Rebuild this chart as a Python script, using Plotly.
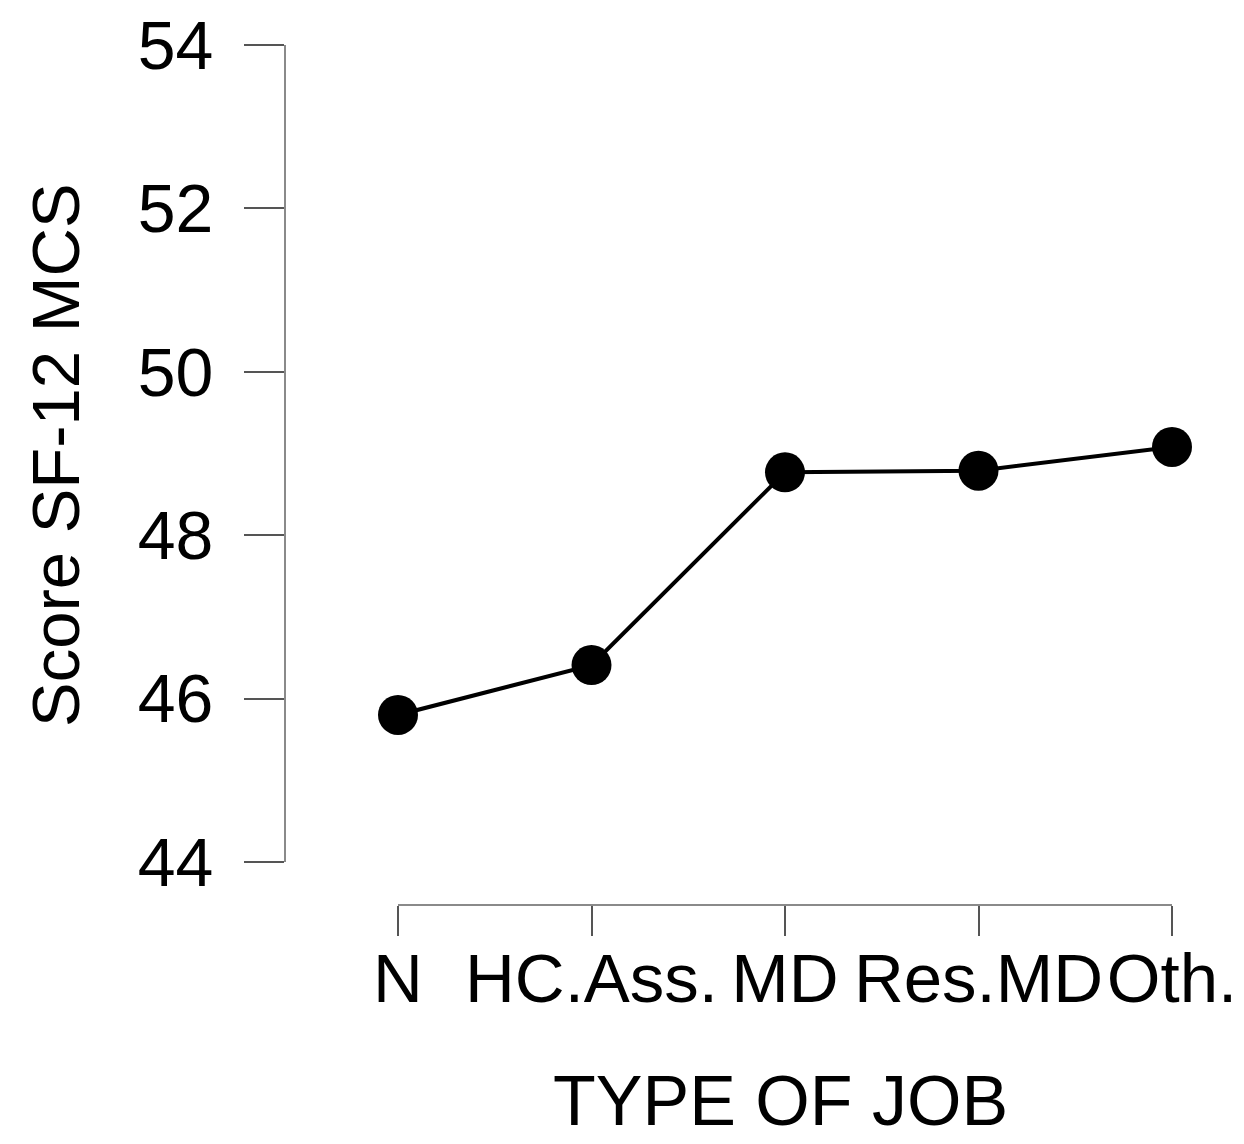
import plotly.graph_objects as go

categories = ["N", "HC.Ass.", "MD", "Res.MD", "Oth."]
scores = [45.80, 46.41, 48.77, 48.79, 49.08]
y_ticks = [44, 46, 48, 50, 52, 54]

# page body adds an 8px offset; lay out in page coordinates
OFF = 8
W, H = 1244 - OFF, 1144 - OFF
FONT = "Liberation Sans, Arial, sans-serif"


def fx(px):
    return (px - OFF) / W


def fy(py):
    return 1 - (py - OFF) / H


fig = go.Figure()
fig.add_trace(go.Scatter(
    x=categories, y=scores, mode="lines+markers",
    line=dict(color="black", width=4),
    marker=dict(color="black", size=40),
    cliponaxis=False, showlegend=False,
))

fig.update_layout(
    width=W, height=H,
    margin=dict(l=0, r=0, t=0, b=0),
    paper_bgcolor="white", plot_bgcolor="white",
    font=dict(family=FONT, size=68, color="black"),
    xaxis=dict(
        type="category", range=[0, 4],
        domain=[fx(398), fx(1172)],
        anchor="free", position=fy(905),
        showgrid=False, zeroline=False,
        showline=True, linecolor="#8a8a8a", linewidth=2,
        ticks="outside", ticklen=30, tickwidth=2, tickcolor="#555555",
        tickangle=0, ticklabelstandoff=-17,
        ticklabeloverflow="allow",
        tickfont=dict(size=69),
        automargin=False, fixedrange=True,
    ),
    yaxis=dict(
        range=[44, 54], tickvals=y_ticks,
        domain=[fy(862), fy(45)],
        anchor="free", position=fx(285),
        showgrid=False, zeroline=False,
        showline=True, linecolor="#8a8a8a", linewidth=2,
        ticks="outside", ticklen=40, tickwidth=2, tickcolor="#555555",
        ticklabelstandoff=17,
        ticklabeloverflow="allow",
        tickfont=dict(size=68),
        automargin=False, fixedrange=True,
    ),
    annotations=[
        dict(text="TYPE OF JOB", xref="paper", yref="paper",
             x=fx(780), y=fy(1101), showarrow=False,
             xanchor="center", yanchor="middle", font=dict(size=70)),
        dict(text="Score SF-12 MCS", xref="paper", yref="paper",
             x=fx(55), y=fy(455), showarrow=False, textangle=-90,
             xanchor="center", yanchor="middle", font=dict(size=67)),
    ],
)

fig.write_html("out.html")
